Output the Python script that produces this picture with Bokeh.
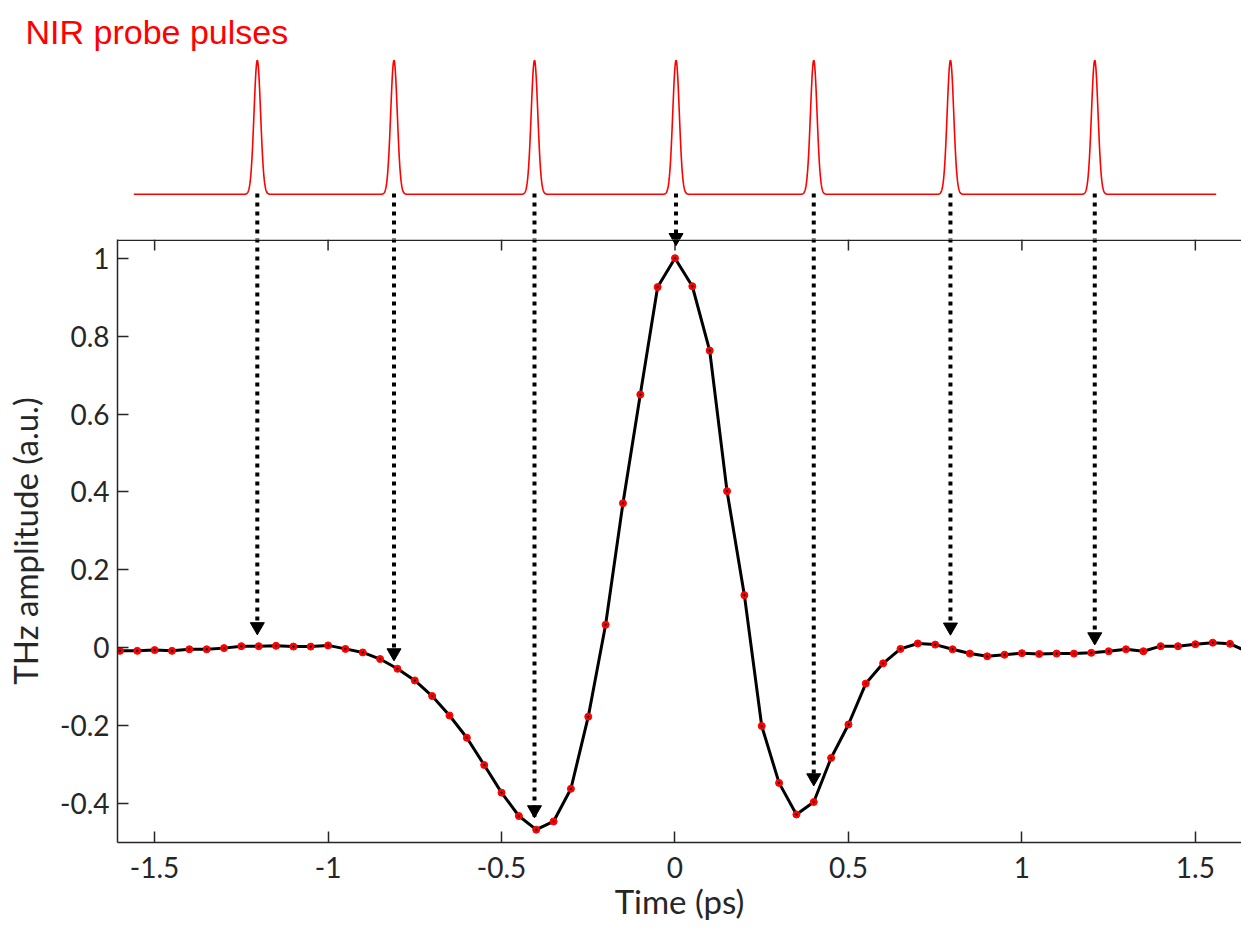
import numpy as np
from bokeh.plotting import figure
from bokeh.layouts import column
from bokeh.models import Range1d, FixedTicker, Title
from bokeh.embed import file_html
from bokeh.resources import INLINE

# ---------------- data ----------------
time_ps = [-1.60, -1.55, -1.50, -1.45, -1.40, -1.35, -1.30, -1.25, -1.20, -1.15,
           -1.10, -1.05, -1.00, -0.95, -0.90, -0.85, -0.80, -0.75, -0.70, -0.65,
           -0.60, -0.55, -0.50, -0.45, -0.40, -0.35, -0.30, -0.25, -0.20, -0.15,
           -0.10, -0.05, 0.00, 0.05, 0.10, 0.15, 0.20, 0.25, 0.30, 0.35,
           0.40, 0.45, 0.50, 0.55, 0.60, 0.65, 0.70, 0.75, 0.80, 0.85,
           0.90, 0.95, 1.00, 1.05, 1.10, 1.15, 1.20, 1.25, 1.30, 1.35,
           1.40, 1.45, 1.50, 1.55, 1.60, 1.65]
thz_amplitude = [-0.008, -0.008, -0.006, -0.008, -0.004, -0.004, -0.001, 0.004, 0.004, 0.005,
                 0.003, 0.003, 0.006, -0.003, -0.012, -0.029, -0.054, -0.084, -0.124, -0.174,
                 -0.231, -0.301, -0.372, -0.432, -0.467, -0.446, -0.362, -0.177, 0.059, 0.371,
                 0.650, 0.926, 1.000, 0.928, 0.763, 0.402, 0.135, -0.201, -0.347, -0.428,
                 -0.396, -0.283, -0.197, -0.092, -0.040, -0.003, 0.011, 0.008, -0.004, -0.015,
                 -0.022, -0.018, -0.014, -0.016, -0.015, -0.015, -0.013, -0.009, -0.004, -0.009,
                 0.004, 0.004, 0.009, 0.013, 0.010, -0.010]

probe_times = [-1.204, -0.81, -0.405, 0.003, 0.40, 0.794, 1.21]
arrow_tips = [0.036, -0.031, -0.434, 1.035, -0.352, 0.035, 0.010]

x_ticks = [-1.5, -1, -0.5, 0, 0.5, 1, 1.5]
x_tick_labels = ["-1.5", "-1", "-0.5", "0", "0.5", "1", "1.5"]
y_ticks = [-0.4, -0.2, 0, 0.2, 0.4, 0.6, 0.8, 1]
y_tick_labels = ["-0.4", "-0.2", "0", "0.2", "0.4", "0.6", "0.8", "1"]

pulse_title = "NIR probe pulses"
x_label = "Time (ps)"
y_label = "THz amplitude (a.u.)"

# ---------------- layout constants ----------------
W, H = 1241, 930
TOP_H = 239                      # height of the pulse strip
TOP_BORDER = 50                  # room for the red caption above the pulses
BOT_H = H - TOP_H
LEFT = 117
BOTTOM_BORDER = 88
X_END = 1.633
X_START = -1.607
Y_BOTTOM, Y_SPLIT = -0.5, 1.048
px_per_unit = (BOT_H - BOTTOM_BORDER) / (Y_SPLIT - Y_BOTTOM)
Y_TOP = Y_SPLIT + (TOP_H - TOP_BORDER) / px_per_unit

PULSE_BASE, PULSE_HEIGHT, PULSE_SIGMA = 1.164, 0.344, 0.0095
PULSE_EXTENT = (-1.56, 1.56)
ARROW_START = 1.166
HEAD_SIZE = 14
head_offset = (HEAD_SIZE / 2) / px_per_unit
head_y = [t + head_offset for t in arrow_tips]
TICK_LEN = 11 / px_per_unit

AX_COLOR = "#262626"
RED = "#ff0000"
FONT = "Lato"


def draw_arrows(fig):
    fig.segment(x0=probe_times, y0=[ARROW_START] * len(probe_times),
                x1=probe_times, y1=arrow_tips, line_color="black",
                line_width=4, line_dash="4 5", line_cap="butt")
    fig.scatter(x=probe_times, y=head_y, marker="inverted_triangle",
                size=HEAD_SIZE, fill_color="black", line_color="black")


# ---------------- top strip: probe pulses ----------------
caption = Title(text=pulse_title, align="left", offset=25 - LEFT, standoff=0,
                text_font="Liberation Sans", text_font_size="34px",
                text_font_style="normal", text_color=RED)
top = figure(width=W, height=TOP_H, x_range=Range1d(X_START, X_END),
             y_range=Range1d(Y_SPLIT, Y_TOP), x_axis_location=None, y_axis_location=None,
             output_backend="svg", toolbar_location=None, min_border=0,
             min_border_left=LEFT, min_border_top=TOP_BORDER,
             outline_line_color=None, title=caption)
top.xgrid.visible = False
top.ygrid.visible = False

t = np.linspace(PULSE_EXTENT[0], PULSE_EXTENT[1], 4000)
env = np.zeros_like(t)
for c in probe_times:
    env += np.exp(-((t - c) ** 2) / (2 * PULSE_SIGMA ** 2))
top.line(t, PULSE_BASE + PULSE_HEIGHT * env, line_color=RED, line_width=1.6)
draw_arrows(top)

# ---------------- main plot ----------------
p = figure(width=W, height=BOT_H, x_range=Range1d(X_START, X_END),
           y_range=Range1d(Y_BOTTOM, Y_SPLIT), output_backend="svg",
           toolbar_location=None, min_border_left=LEFT, min_border_right=0,
           min_border_top=0, min_border_bottom=BOTTOM_BORDER,
           outline_line_color=None, x_axis_label=x_label, y_axis_label=y_label)
p.xgrid.visible = False
p.ygrid.visible = False

xax = p.below[0]
yax = p.left[0]
for ax in [xax, yax]:
    ax.axis_line_color = AX_COLOR
    ax.axis_line_width = 1.5
    ax.major_tick_line_color = AX_COLOR
    ax.major_tick_line_width = 1.5
    ax.major_tick_in = 11
    ax.major_tick_out = 0
    ax.minor_tick_line_color = None
    ax.major_label_text_font = FONT
    ax.major_label_text_font_size = "28px"
    ax.major_label_text_color = AX_COLOR
    ax.axis_label_text_font = FONT
    ax.axis_label_text_font_size = "33px"
    ax.axis_label_text_font_style = "normal"
    ax.axis_label_text_color = AX_COLOR

xax.ticker = FixedTicker(ticks=x_ticks)
xax.major_label_overrides = dict(zip(x_ticks, x_tick_labels))
xax.major_label_standoff = 14
xax.axis_label_standoff = 0
yax.ticker = FixedTicker(ticks=y_ticks)
yax.major_label_overrides = dict(zip(y_ticks, y_tick_labels))
yax.major_label_standoff = 8
yax.axis_label_standoff = 12

# upper border of the axes box with inward ticks
p.segment(x0=[X_START], y0=[Y_SPLIT - 0.75 / px_per_unit], x1=[X_END],
          y1=[Y_SPLIT - 0.75 / px_per_unit], line_color=AX_COLOR, line_width=1.5)
p.segment(x0=x_ticks, y0=[Y_SPLIT] * len(x_ticks), x1=x_ticks,
          y1=[Y_SPLIT - TICK_LEN] * len(x_ticks), line_color=AX_COLOR, line_width=1.5)

draw_arrows(p)
p.line(time_ps, thz_amplitude, line_color="black", line_width=3)
p.scatter(time_ps, thz_amplitude, size=7, fill_color=RED, line_color=RED)
p.scatter(time_ps, thz_amplitude, size=1.5, fill_color="black", line_color="black")

layout = column(top, p, spacing=0)
open("out.html", "w").write(file_html(layout, INLINE))
